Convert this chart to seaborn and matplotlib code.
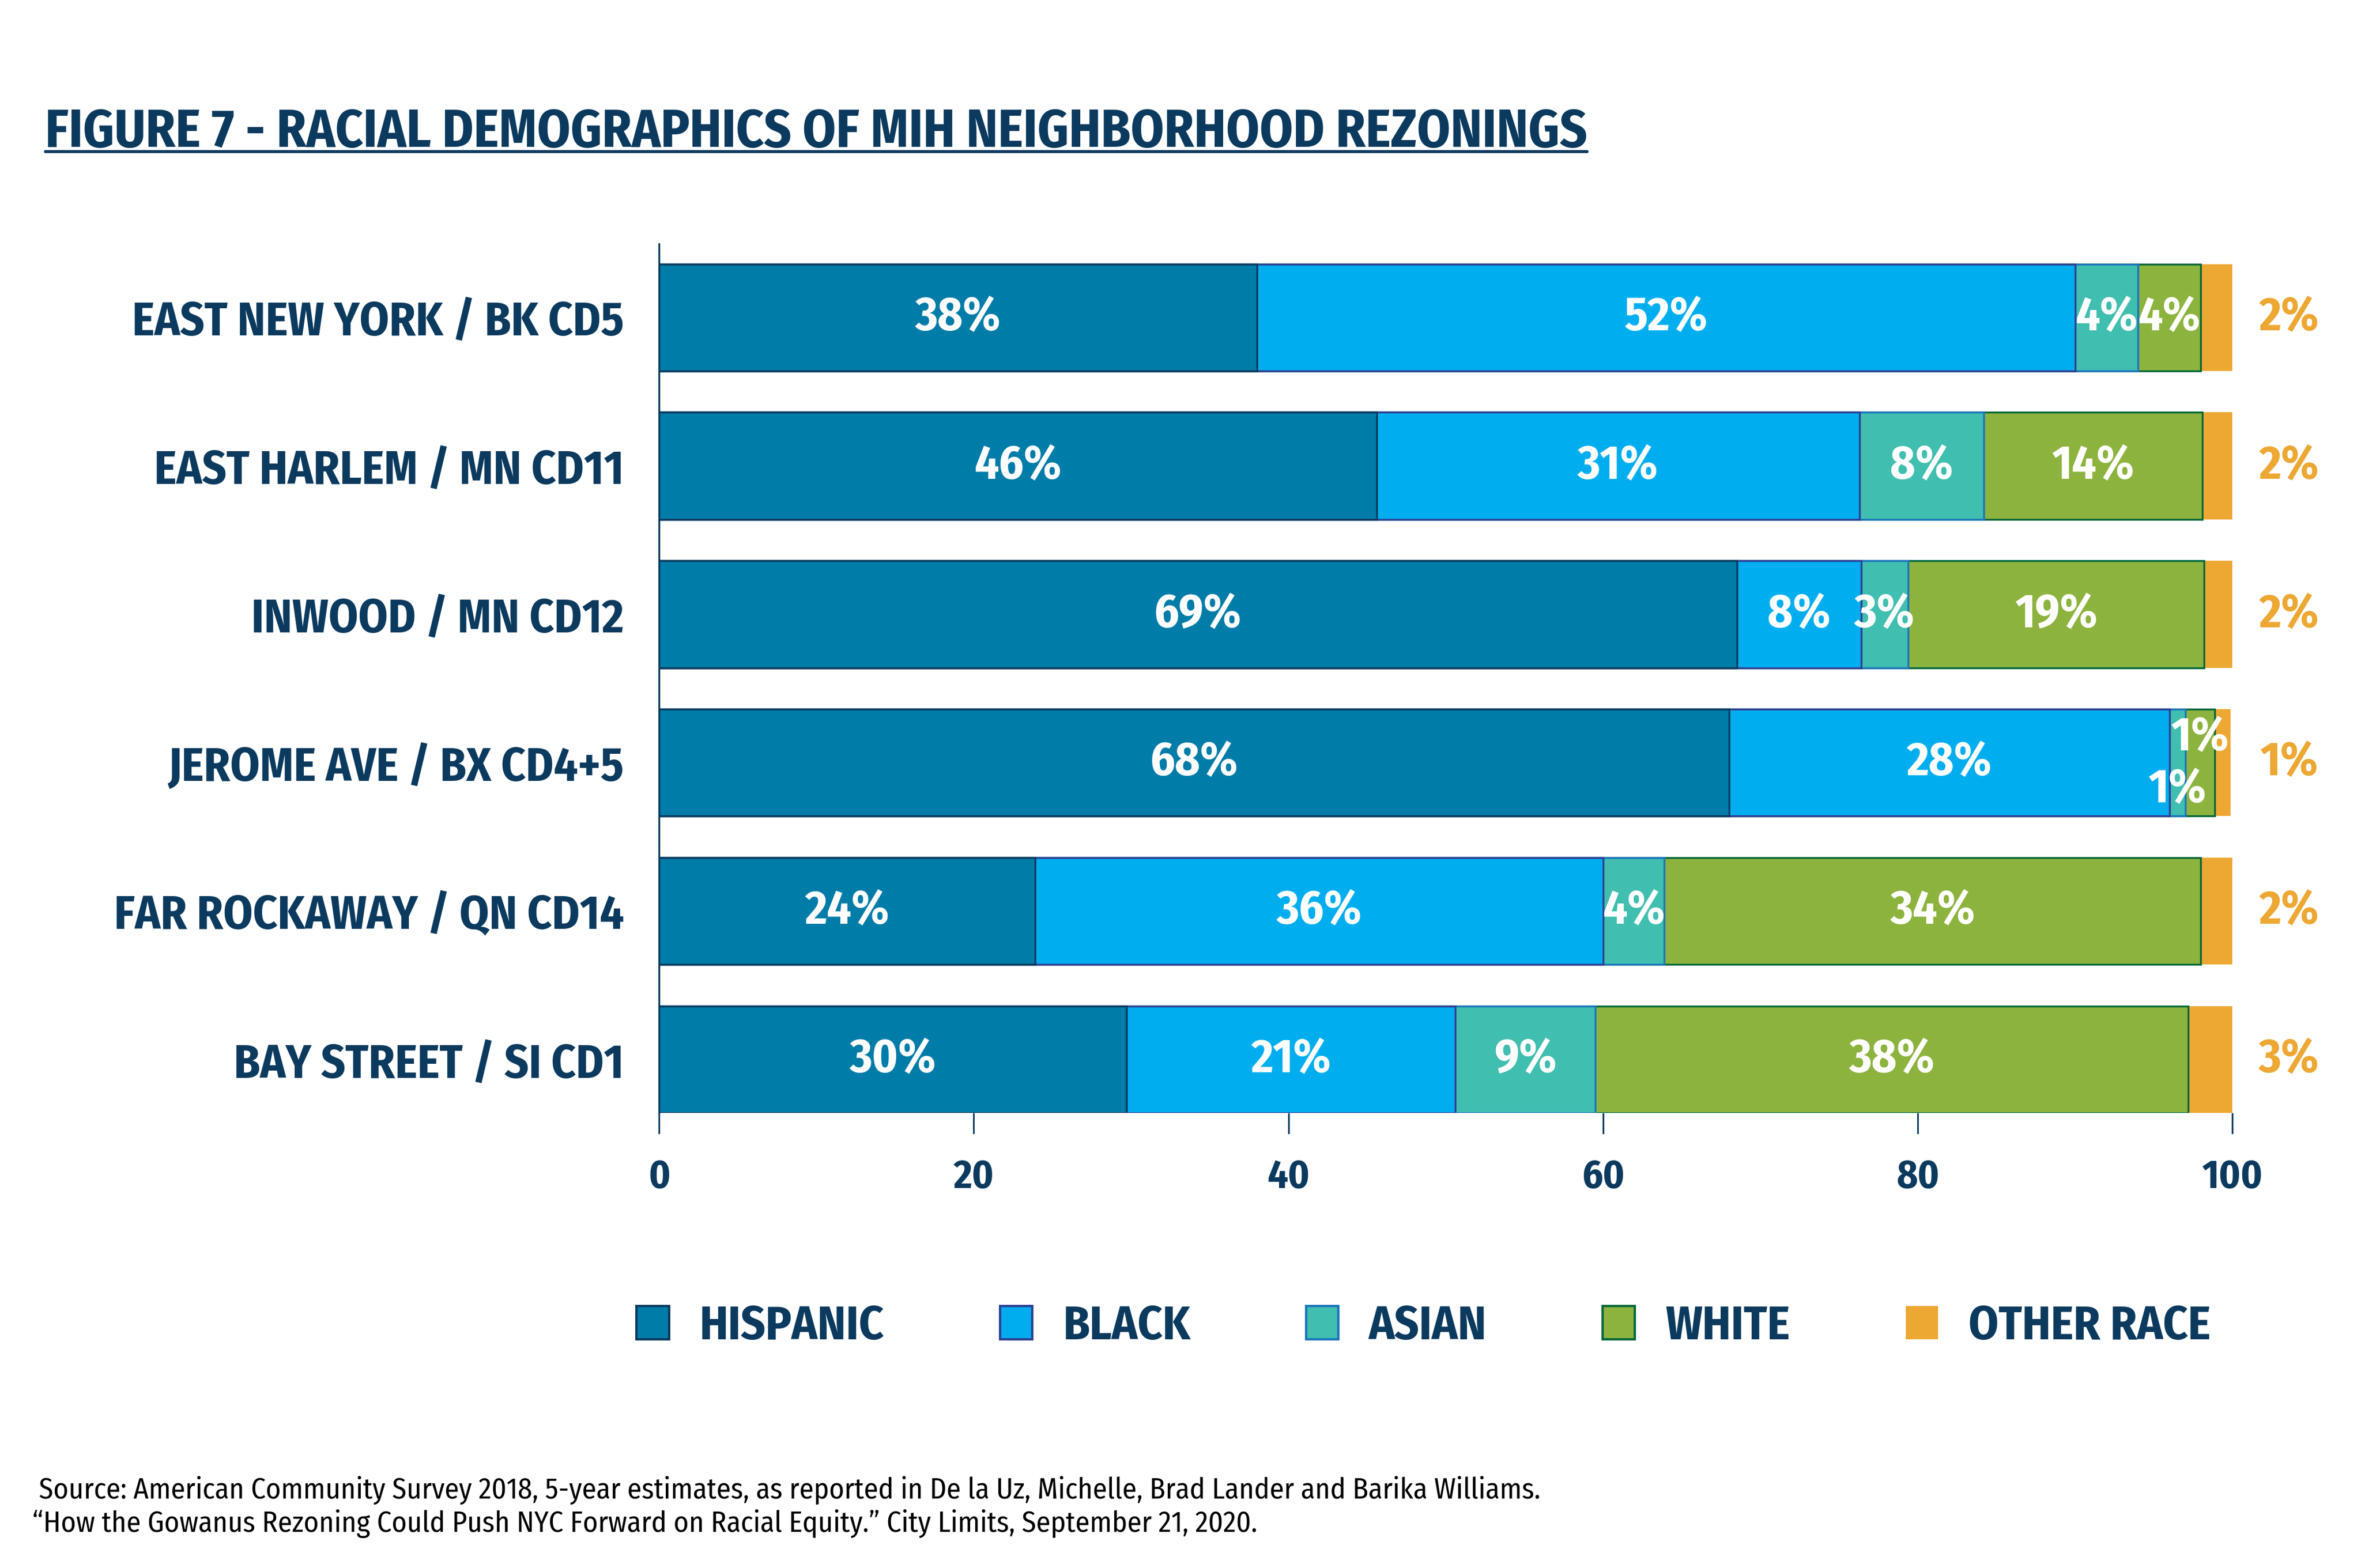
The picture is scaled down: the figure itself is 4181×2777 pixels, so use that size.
import matplotlib
matplotlib.use("Agg")
import matplotlib.pyplot as plt
import seaborn as sns
import pandas as pd
from matplotlib import font_manager as fm
from matplotlib.patches import Patch
from matplotlib.lines import Line2D

# data (percent of residents)
neighborhoods = ['EAST NEW YORK / BK CD5', 'EAST HARLEM / MN CD11', 'INWOOD / MN CD12',
                 'JEROME AVE / BX CD4+5', 'FAR ROCKAWAY / QN CD14', 'BAY STREET / SI CD1']
races = ['HISPANIC', 'BLACK', 'ASIAN', 'WHITE', 'OTHER RACE']

hispanic = [38.0, 45.6, 68.5, 68.0, 23.9, 29.7]
black = [52.0, 30.7, 7.9, 28.0, 36.1, 20.9]
asian = [4.0, 7.9, 3.0, 1.0, 3.9, 8.9]
white = [4.0, 13.9, 18.8, 1.9, 34.1, 37.7]
other = [2.0, 2.0, 1.9, 1.0, 2.0, 2.9]

hispanic_lbl = ['38%', '46%', '69%', '68%', '24%', '30%']
black_lbl = ['52%', '31%', '8%', '28%', '36%', '21%']
asian_lbl = ['4%', '8%', '3%', '1%', '4%', '9%']
white_lbl = ['4%', '14%', '19%', '1%', '34%', '38%']
other_lbl = ['2%', '2%', '2%', '1%', '2%', '3%']

x_ticks = [0, 20, 40, 60, 80, 100]

title = 'FIGURE 7 - RACIAL DEMOGRAPHICS OF MIH NEIGHBORHOOD REZONINGS'
source_1 = ' Source: American Community Survey 2018, 5-year estimates, as reported in De la Uz, Michelle, Brad Lander and Barika Williams.'
source_2 = '\u201cHow the Gowanus Rezoning Could Push NYC Forward on Racial Equity.\u201d City Limits, September 21, 2020.'

NAVY = '#0B3A5E'
fills = {'HISPANIC': '#007CA8', 'BLACK': '#00AEEF', 'ASIAN': '#40BEAF',
         'WHITE': '#8DB33F', 'OTHER RACE': '#EDA733'}
edges = {'HISPANIC': '#0B3A5E', 'BLACK': '#2E3F94', 'ASIAN': '#1C75BC',
         'WHITE': '#00683A', 'OTHER RACE': '#EDA733'}

sns.set_theme(style='white')
installed = {f.name for f in fm.fontManager.ttflist}
cond = next((f for f in ['Fira Sans Condensed', 'IBM Plex Sans Condensed',
                         'Fira Sans Extra Condensed'] if f in installed), 'Liberation Sans')
FONT = [cond, 'DejaVu Sans']
plt.rcParams['font.family'] = FONT

df = pd.DataFrame({'area': neighborhoods, 'HISPANIC': hispanic, 'BLACK': black,
                   'ASIAN': asian, 'WHITE': white, 'OTHER RACE': other})
cum = df[races].cumsum(axis=1)
cum['area'] = df['area']
labels = {'HISPANIC': hispanic_lbl, 'BLACK': black_lbl, 'ASIAN': asian_lbl,
          'WHITE': white_lbl, 'OTHER RACE': other_lbl}

fig = plt.figure(figsize=(4181 / 300, 2777 / 300), dpi=300)
ax = fig.add_axes([0.2792, 0.2902, 0.6663, 0.5543])

# stacked bars: draw cumulative totals back to front
for race in reversed(races):
    sns.barplot(data=cum, x=race, y='area', orient='h', color=fills[race],
                saturation=1, width=0.72, edgecolor=edges[race],
                linewidth=0 if race == 'OTHER RACE' else 0.8, ax=ax)

# segment labels
for i in range(len(neighborhoods)):
    tiny = df.loc[i, 'ASIAN'] < 2.5 and df.loc[i, 'WHITE'] < 2.5
    for race in races[:-1]:
        v = df.loc[i, race]
        xc = cum.loc[i, race] - v / 2
        dy = 0
        if tiny and race == 'ASIAN':
            dy = 0.18
        elif tiny and race == 'WHITE':
            dy = -0.17
        ax.text(xc, i + dy, labels[race][i], ha='center', va='center',
                color='white', fontsize=20.3, fontweight='bold')
    ax.text(103.6, i, other_lbl[i], ha='center', va='center',
            color=fills['OTHER RACE'], fontsize=20.3, fontweight='bold')

ax.set_xlim(0, 100)
ax.set_ylim(5.36, -0.496)
ax.set_xticks(x_ticks)
ax.set_xticklabels([str(t) for t in x_ticks])
ax.set_xlabel('')
ax.set_ylabel('')
sns.despine(ax=ax, top=True, right=True, bottom=True, left=False)
ax.spines['left'].set_color(NAVY)
ax.spines['left'].set_linewidth(0.8)
ax.tick_params(axis='x', bottom=True, length=8.9, width=0.7, color=NAVY, pad=10,
               labelsize=17, labelcolor=NAVY)
ax.tick_params(axis='y', left=False, length=0, pad=15, labelsize=20.0, labelcolor=NAVY)
for lab in ax.get_xticklabels() + ax.get_yticklabels():
    lab.set_fontweight('bold')

# title with underline
t = fig.text(79.5 / 4181, 1 - 260 / 2777, title, ha='left', va='baseline',
             fontsize=22.6, fontweight='bold', color=NAVY)
fig.canvas.draw()
bb = t.get_window_extent().transformed(fig.transFigure.inverted())
uy = 1 - 268 / 2777
fig.add_artist(Line2D([bb.x0, bb.x1], [uy, uy], transform=fig.transFigure,
                      color=NAVY, linewidth=1.3))

# legend
handles = [Patch(facecolor=fills[r], edgecolor=edges[r],
                 linewidth=0 if r == 'OTHER RACE' else 1.0) for r in races]
fig.legend(handles, races, loc='center', bbox_to_anchor=(0.603, 0.154), ncol=5,
           frameon=False, prop={'family': FONT, 'weight': 'bold', 'size': 20.3},
           labelcolor=NAVY, handlelength=0.68, handleheight=0.71,
           handletextpad=0.64, columnspacing=2.42)

fig.text(57 / 4181, 1 - 2653 / 2777, source_1, ha='left', va='baseline',
         fontsize=12.3, color='black')
fig.text(57 / 4181, 1 - 2713 / 2777, source_2, ha='left', va='baseline',
         fontsize=12.3, color='black')

fig.savefig('out.png', dpi=300)
